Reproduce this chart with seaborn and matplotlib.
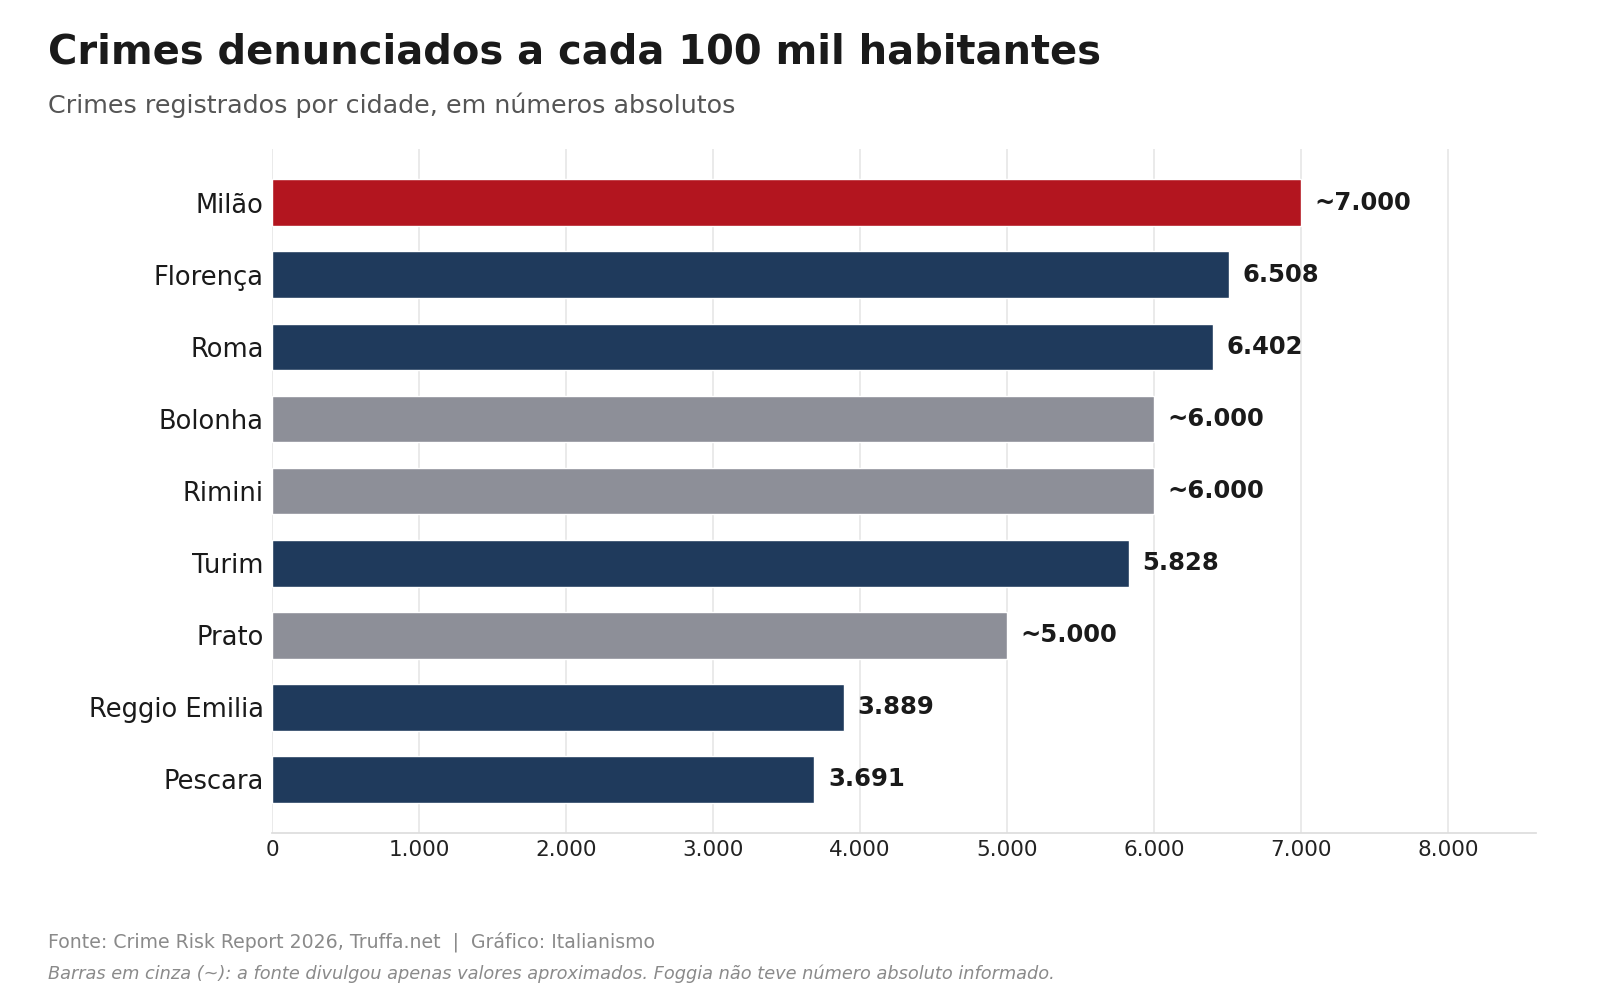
import matplotlib.pyplot as plt
import pandas as pd
import seaborn as sns

cities = ["Milão", "Florença", "Roma", "Bolonha", "Rimini", "Turim",
          "Prato", "Reggio Emilia", "Pescara"]
crimes = [7000, 6508, 6402, 6000, 6000, 5828, 5000, 3889, 3691]
approx = [True, False, False, True, True, False, True, False, False]
status = ["destaque", "exato", "exato", "aprox", "aprox", "exato",
          "aprox", "exato", "exato"]
palette = {"destaque": "#B3151F", "exato": "#1F3A5C", "aprox": "#8D8F98"}
x_ticks = [0, 1000, 2000, 3000, 4000, 5000, 6000, 7000, 8000]


def fmt(v):
    return f"{v:,.0f}".replace(",", ".")


df = pd.DataFrame({"cidade": cities, "crimes": crimes, "status": status,
                   "aprox": approx})

sns.set_theme(style="whitegrid")
plt.rcParams['font.family'] = ['DejaVu Sans']

fig = plt.figure(figsize=(16, 9.92), dpi=100)
ax = fig.add_axes([0.17, 0.16, 0.79, 0.69])
sns.barplot(
    data=df, x="crimes", y="cidade", hue="status", palette=palette,
    dodge=False, legend=False, width=0.65, saturation=1, ax=ax,
)

for i, row in df.iterrows():
    label = ("~" if row.aprox else "") + fmt(row.crimes)
    ax.text(row.crimes + 95, i, label, va="center", ha="left",
            fontsize=17.5, fontweight="bold", color="#1a1a1a")

ax.set_xlim(0, 8600)
ax.set_ylim(8.75, -0.75)
ax.set_xticks(x_ticks)
ax.set_xticklabels([fmt(t) for t in x_ticks], fontsize=15.5, color="#222222")
ax.tick_params(axis="y", labelsize=18.5, labelcolor="#1a1a1a", length=0, pad=6)
ax.tick_params(axis="x", length=0, pad=5)
ax.set_xlabel("")
ax.set_ylabel("")
ax.grid(axis="x", color="#e6e6e6", linewidth=1.2)
ax.grid(axis="y", visible=False)
for side in ["top", "right", "left"]:
    ax.spines[side].set_visible(False)
ax.spines["bottom"].set_color("#dddddd")
ax.set_axisbelow(True)

fig.text(0.03, 0.947, "Crimes denunciados a cada 100 mil habitantes",
         fontsize=28.8, fontweight="bold", color="#1a1a1a", va="center")
fig.text(0.03, 0.894, "Crimes registrados por cidade, em números absolutos",
         fontsize=18.3, color="#555555", va="center")
fig.text(0.03, 0.051,
         "Fonte: Crime Risk Report 2026, Truffa.net  |  Gráfico: Italianismo",
         fontsize=13.6, color="#8a8a8a", va="center")
fig.text(0.03, 0.018,
         "Barras em cinza (~): a fonte divulgou apenas valores aproximados. "
         "Foggia não teve número absoluto informado.",
         fontsize=12.8, color="#8a8a8a", style="italic", va="center")

fig.savefig("out.png", dpi=100)
